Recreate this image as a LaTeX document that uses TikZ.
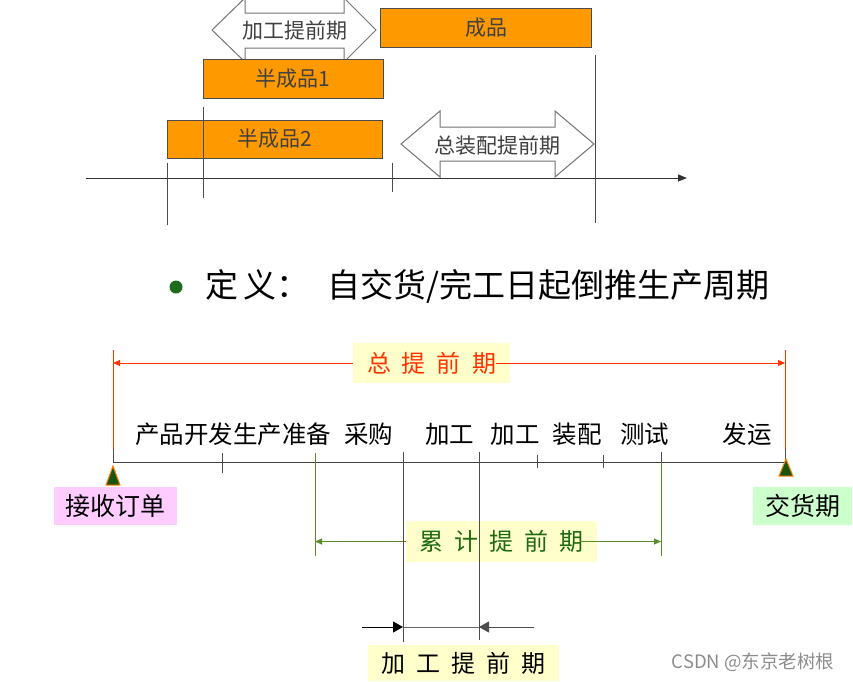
\documentclass[tikz,border=0pt]{standalone}
\usepackage{fontspec}
\setmainfont{Noto Sans CJK SC}
\usepackage{tikz}
\usetikzlibrary{arrows.meta,positioning,calc}
\usepackage{xcolor}
\definecolor{partorange}{HTML}{FF9900}
\definecolor{leadred}{HTML}{FF3300}
\definecolor{leadgreen}{HTML}{1F6A10}
\definecolor{guidegreen}{HTML}{5B8C2A}
\definecolor{noteyellow}{HTML}{FFFFCC}
\definecolor{orderpink}{HTML}{FFCCFF}
\definecolor{duegreen}{HTML}{CCFFCC}
\definecolor{dotgreen}{HTML}{1E6B1E}
\newcommand{\lsp}{\hspace{11pt}}

\begin{document}
\begin{tikzpicture}[x=1pt,y=-1pt,
part/.style={rectangle,draw=black!70,fill=partorange,line width=1pt,text=black!75,font=\fontsize{21}{24}\selectfont},
hollow/.style={draw=black!55,fill=white,line width=1pt,line join=miter},
plain/.style={text=black!75,font=\fontsize{21}{24}\selectfont},
stage/.style={text=black,font=\fontsize{24.5}{28}\selectfont,inner sep=0pt},
note/.style={rectangle,fill=noteyellow,inner sep=0pt,font=\fontsize{24}{28}\selectfont},
tag/.style={rectangle,inner sep=0pt,minimum height=38pt,font=\fontsize{25}{28}\selectfont},
guide/.style={black!70,line width=1pt},
axis/.style={black!80,line width=1pt,-{Triangle[length=9pt,width=7pt]}},
redarr/.style={leadred,line width=1pt,-{Triangle[length=7pt,width=6pt]}},
grnarr/.style={guidegreen,line width=1pt,-{Triangle[length=7pt,width=6pt]}},
blkarr/.style={black,line width=1pt,-{Triangle[length=10pt,width=11pt]}},
flag/.style={fill=leadgreen!80!black,draw=orange,line width=1pt}
]
\useasboundingbox (0,0) rectangle (853,681);

% upper chart
\draw[hollow] (212,30) -- (245,-2) -- (245,13) -- (344,13) -- (344,-2) -- (376,30)
  -- (344,62) -- (344,48) -- (245,48) -- (245,62) -- cycle;
\node[plain] (procLT) at (295,31) {加工提前期};
\node[part,minimum width=211pt,minimum height=39pt] (finished) at (486,28) {成品};
\node[part,minimum width=180pt,minimum height=39pt] (semi1) at (293,78.5) {半成品1};
\node[part,minimum width=215pt,minimum height=38pt] (semi2) at (274.5,139) {半成品2};
\draw[hollow] (401,144) -- (440,111) -- (440,127) -- (555,127) -- (555,111) -- (594,144)
  -- (555,177) -- (555,161) -- (440,161) -- (440,177) -- cycle;
\node[plain] (asmLT) at (497,146) {总装配提前期};

\coordinate (t0) at (86,178);
\coordinate (t1) at (687,178);
\draw[axis] (t0) -- (t1);
\draw[guide] (167,163) -- (167,225);
\draw[guide] (203,107) -- (203,198);
\draw[guide] (392,163) -- (392,192);
\draw[guide] (595,55) -- (595,223);

% definition line
\fill[dotgreen] (176,287) circle (6.5);
\node[anchor=west,inner sep=0pt,font=\fontsize{33}{37}\selectfont] (defn) at (205,286)
  {定\hspace{5pt}义：\hspace{18pt}自交货/完工日起倒推生产周期};

% lower timeline
\coordinate (start) at (113,462);
\coordinate (due) at (786,462);
\draw[black!75,line width=1pt] (start) -- (due);
\draw[leadred,line width=1pt] (113,350) -- (113,450);
\draw[leadred,line width=1pt] (785,350) -- (785,450);
\draw[guide] (113,450) -- (start);
\draw[guide] (785,450) -- (785,462);

\node[note,text=leadred,minimum width=157pt,minimum height=40pt] (total) at (431.5,363)
  {总\lsp 提\lsp 前\lsp 期};
\draw[redarr] (total.west) -- (total.west -| start);
\draw[redarr] ([xshift=-14pt]total.east) -- ([xshift=-1pt]total.east -| due);

\node[stage] (dev) at (233,434) {产品开发生产准备};
\node[stage] (buy) at (368.5,434) {采购};
\node[stage] (mak1) at (449.5,434) {加工};
\node[stage] (mak2) at (515,434) {加工};
\node[stage] (asm) at (577,434) {装配};
\node[stage] (test) at (644.5,434) {测试};
\node[stage] (ship) at (747,434) {发运};

\draw[guide] (222,453) -- (222,473);
\draw[guide] (537,455) -- (537,468);
\draw[guide] (603,455) -- (603,468);

\node[note,text=leadgreen,minimum width=191pt,minimum height=41pt] (cum) at (501.5,541.5)
  {累\lsp 计\lsp 提\lsp 前\lsp 期};
\coordinate (cumL) at (315,453);
\coordinate (cumR) at (661,452);
\draw[guidegreen,line width=1pt] (cumL) -- (315,556);
\draw[guide] (cumR) -- (661,462);
\draw[guidegreen,line width=1pt] (661,462) -- (661,556);
\draw[grnarr] (cum.west) -- (cum.west -| cumL);
\draw[grnarr] ([xshift=-17pt]cum.east) -- (cum.east -| cumR);

\coordinate (makL) at (403,452);
\coordinate (makR) at (479,452);
\draw[guide] (makL) -- (403,642);
\draw[guide] (makR) -- (479,640);
\draw[black!60,line width=1pt] (403,627) -- (479,627);
\draw[blkarr] (362,627) -- (403,627);
\draw[blkarr,black!70] (534,627) -- (479,627);
\node[note,text=black,minimum width=191pt,minimum height=36pt] (mak) at (463.5,663)
  {加\lsp 工\lsp 提\lsp 前\lsp 期};

% order and delivery
\draw[flag] (113,466) -- (120,485) -- (106,485) -- cycle;
\draw[flag] (786,459) -- (793,476) -- (779,476) -- cycle;
\node[tag,fill=orderpink,minimum width=123pt] (order) at (115.5,506) {接收订单};
\node[tag,fill=duegreen,minimum width=99pt] (delivery) at (802.5,506) {交货期};

\node[text=black!45,font=\fontsize{18.5}{21}\selectfont] (mark) at (753,662) {CSDN @东京老树根};
\end{tikzpicture}
\end{document}
